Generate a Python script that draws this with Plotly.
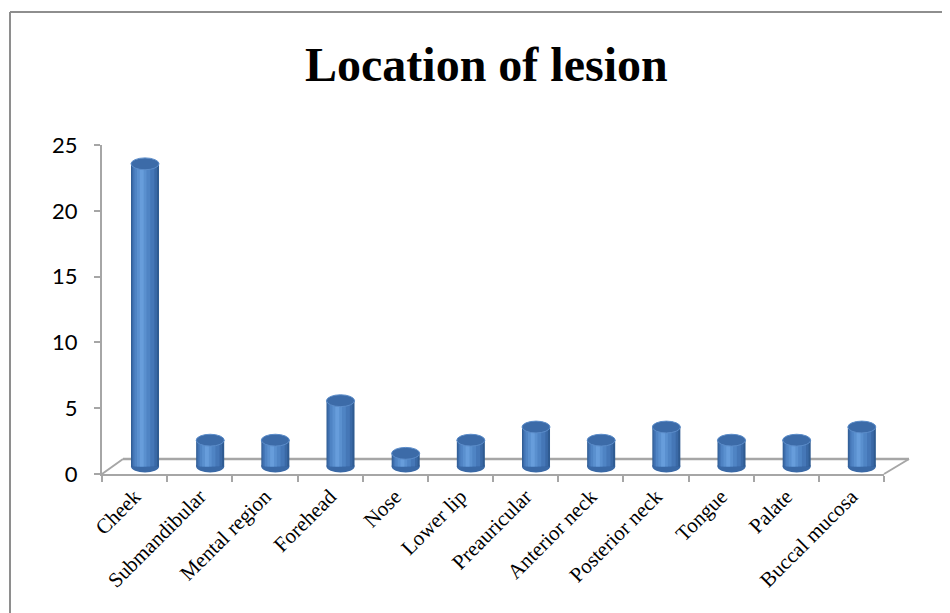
import plotly.graph_objects as go

categories = ["Cheek", "Submandibular", "Mental region", "Forehead", "Nose", "Lower lip",
              "Preauricular", "Anterior neck", "Posterior neck", "Tongue", "Palate", "Buccal mucosa"]
values = [23, 2, 2, 5, 1, 2, 3, 2, 3, 2, 2, 3]
y_ticks = [0, 5, 10, 15, 20, 25]
title_text = "Location of lesion"

W, H = 950, 613
OFF = 8  # page body margin of the browser
# target pixel geometry (reference coordinates)
AX_L, AX_R, AX_T, AX_B = 102, 884, 145, 474
ML = AX_L - OFF
MT = AX_T - OFF
MR = W - (AX_R - OFF)
MB = H - (AX_B - OFF)
PW, PH = W - ML - MR, H - MT - MB
YMAX = 25

def px(x):  # reference pixel x -> paper
    return (x - OFF - ML) / PW

def py(y):  # reference pixel y -> paper
    return (H - MB - (y - OFF)) / PH

BAR_W = 0.43      # in category units
SHIFT = 0.16      # depth shift of bars (category units)
BASE = 0.57       # depth lift of bars (value units)
ELL = 0.45        # ellipse half height (value units)

layers = [
    (1.00, 0.00, "#2F5B91"),
    (0.90, -0.01, "#3A69A6"),
    (0.76, -0.02, "#4577B7"),
    (0.56, -0.04, "#4F84C4"),
    (0.34, -0.05, "#5A90CF"),
    (0.14, -0.05, "#679DDB"),
]

fig = go.Figure()
for frac, dx, col in layers:
    w = BAR_W * frac
    fig.add_trace(go.Bar(
        x=categories, y=values, base=[BASE] * len(values),
        width=w, offset=SHIFT + dx - w / 2,
        marker=dict(color=col, line=dict(width=0)),
        showlegend=False, hoverinfo="skip",
    ))

shapes = []
for i, v in enumerate(values):
    c = i + SHIFT
    shapes.append(dict(type="circle", xref="x", yref="y", layer="below",
                       x0=c - BAR_W / 2, x1=c + BAR_W / 2, y0=BASE - ELL, y1=BASE + ELL,
                       fillcolor="#3A69A6", line=dict(width=0)))
    top = BASE + v
    shapes.append(dict(type="circle", xref="x", yref="y", layer="above",
                       x0=c - BAR_W / 2, x1=c + BAR_W / 2, y0=top - ELL, y1=top + ELL,
                       fillcolor="#3C6BA8", line=dict(color="#5B8CC9", width=1)))

floor_col = "#A6A6A6"
shapes.append(dict(type="line", xref="paper", yref="paper", layer="below",
                   x0=px(123), x1=px(909), y0=py(459), y1=py(459),
                   line=dict(color=floor_col, width=2.5)))
shapes.append(dict(type="line", xref="paper", yref="paper", layer="below",
                   x0=px(102), x1=px(123), y0=py(474), y1=py(459),
                   line=dict(color=floor_col, width=2)))
shapes.append(dict(type="line", xref="paper", yref="paper", layer="below",
                   x0=px(884), x1=px(909), y0=py(474), y1=py(459),
                   line=dict(color=floor_col, width=2)))
# chart border (top and left)
shapes.append(dict(type="line", xref="paper", yref="paper",
                   x0=px(10), x1=px(960), y0=py(12), y1=py(12),
                   line=dict(color="#8E8E8E", width=2)))
shapes.append(dict(type="line", xref="paper", yref="paper",
                   x0=px(10), x1=px(10), y0=py(12), y1=py(625),
                   line=dict(color="#8E8E8E", width=2)))

fig.update_layout(
    width=W, height=H,
    margin=dict(l=ML, r=MR, t=MT, b=MB),
    paper_bgcolor="white", plot_bgcolor="white",
    barmode="overlay",
    shapes=shapes,
    showlegend=False,
    annotations=[dict(text="<b>" + title_text + "</b>", xref="paper", yref="paper",
                      x=px(486), y=py(64), xanchor="center", yanchor="middle",
                      showarrow=False,
                      font=dict(family="Liberation Serif", size=48, color="black"))],
    xaxis=dict(
        type="category", range=[-0.5, len(categories) - 0.5],
        showline=True, linecolor=floor_col, linewidth=2,
        ticks="outside", tickson="boundaries", ticklen=6, tickcolor=floor_col, tickwidth=1.5,
        tickangle=-45, showgrid=False, zeroline=False,
        tickfont=dict(family="Liberation Serif", size=21, color="black"),
    ),
    yaxis=dict(
        range=[0, YMAX], tickvals=y_ticks,
        showline=True, linecolor=floor_col, linewidth=2,
        ticks="outside", ticklen=6, tickcolor=floor_col, tickwidth=1.5,
        showgrid=False, zeroline=False,
        ticklabelstandoff=12,
        tickfont=dict(family="Lato", size=22, color="black"),
    ),
)

fig.write_html("out.html")
